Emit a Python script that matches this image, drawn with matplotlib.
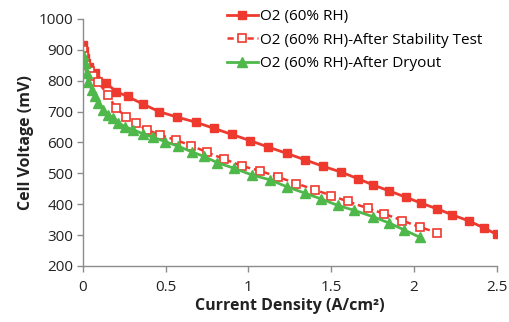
import matplotlib
matplotlib.use("Agg")
import matplotlib.pyplot as plt

plt.rcParams['font.family'] = ['Open Sans', 'DejaVu Sans']

# polarization curves, current density (A/cm2) vs cell voltage (mV)
base_j = [0, 0.005, 0.01, 0.02, 0.035, 0.07, 0.14, 0.2, 0.27, 0.36, 0.46, 0.57, 0.68,
          0.79, 0.9, 1.01, 1.12, 1.23, 1.34, 1.45, 1.56, 1.66, 1.75, 1.85, 1.95, 2.04,
          2.14, 2.23, 2.33, 2.42, 2.5]
base_v = [915, 895, 875, 858, 843, 824, 792, 765, 749, 725, 700, 682, 666,
          646, 626, 606, 585, 565, 544, 523, 504, 483, 463, 443, 423, 404,
          385, 366, 346, 324, 302]

stab_j = [0, 0.005, 0.01, 0.02, 0.04, 0.06, 0.09, 0.15, 0.2, 0.26, 0.32, 0.385, 0.465,
          0.56, 0.655, 0.75, 0.85, 0.96, 1.07, 1.18, 1.29, 1.4, 1.5, 1.6, 1.72, 1.82,
          1.93, 2.035, 2.14]
stab_v = [900, 880, 865, 850, 830, 815, 797, 754, 711, 684, 662, 641, 625,
          608, 590, 568, 547, 524, 508, 488, 467, 447, 428, 409, 387, 369,
          347, 326, 308]

dry_j = [0, 0.012, 0.022, 0.032, 0.053, 0.072, 0.092, 0.123, 0.153, 0.183, 0.213, 0.254,
         0.304, 0.364, 0.425, 0.495, 0.575, 0.656, 0.73, 0.81, 0.91, 1.02, 1.13, 1.23,
         1.34, 1.44, 1.54, 1.64, 1.75, 1.85, 1.94, 2.035]
dry_v = [885, 857, 824, 797, 770, 749, 727, 706, 689, 679, 664, 651,
         641, 628, 617, 603, 588, 570, 555, 535, 517, 495, 479, 457,
         436, 417, 396, 380, 360, 339, 317, 293]

labels = ["O2 (60% RH)", "O2 (60% RH)-After Stability Test", "O2 (60% RH)-After Dryout"]

red = "#ee3a2e"
green = "#4fb84a"
gray = "#8c8c8c"
ink = "#222222"

fig = plt.figure(figsize=(5.09, 3.22), dpi=100)
ax = fig.add_axes([0.163, 0.174, 0.813, 0.767])

ax.plot(base_j, base_v, color=red, lw=2, marker='s', ms=5.5, label=labels[0])
ax.plot(stab_j, stab_v, color=red, lw=1.8, ls=(0, (2.5, 1.5)), marker='s', ms=5.5,
        mfc='white', mec=red, mew=1.2, label=labels[1])
ax.plot(dry_j, dry_v, color=green, lw=2, marker='^', ms=6.5, label=labels[2])

ax.set_xlim(0, 2.5)
ax.set_ylim(200, 1000)
ax.set_xticks([0, 0.5, 1, 1.5, 2, 2.5])
ax.set_xticklabels(["0", "0.5", "1", "1.5", "2", "2.5"])
ax.set_yticks(range(200, 1001, 100))

for s in ["top", "right"]:
    ax.spines[s].set_visible(False)
for s in ["left", "bottom"]:
    ax.spines[s].set_color(gray)
    ax.spines[s].set_linewidth(1)
ax.tick_params(colors=gray, labelcolor=ink, labelsize=11, length=4, width=1)
ax.tick_params(axis='x', pad=6)
ax.tick_params(axis='y', pad=3)

ax.set_xlabel("Current Density (A/cm²)", fontsize=11.5, fontweight='bold', color=ink,
              labelpad=2)
ax.set_ylabel("Cell Voltage (mV)", fontsize=11.5, fontweight='bold', color=ink, labelpad=3)

ax.legend(loc='upper left', bbox_to_anchor=(0.33, 1.07), frameon=False, fontsize=11,
          handlelength=2.0, handletextpad=0.15, labelspacing=0.55, borderpad=0)

fig.savefig("out.png", dpi=100)
